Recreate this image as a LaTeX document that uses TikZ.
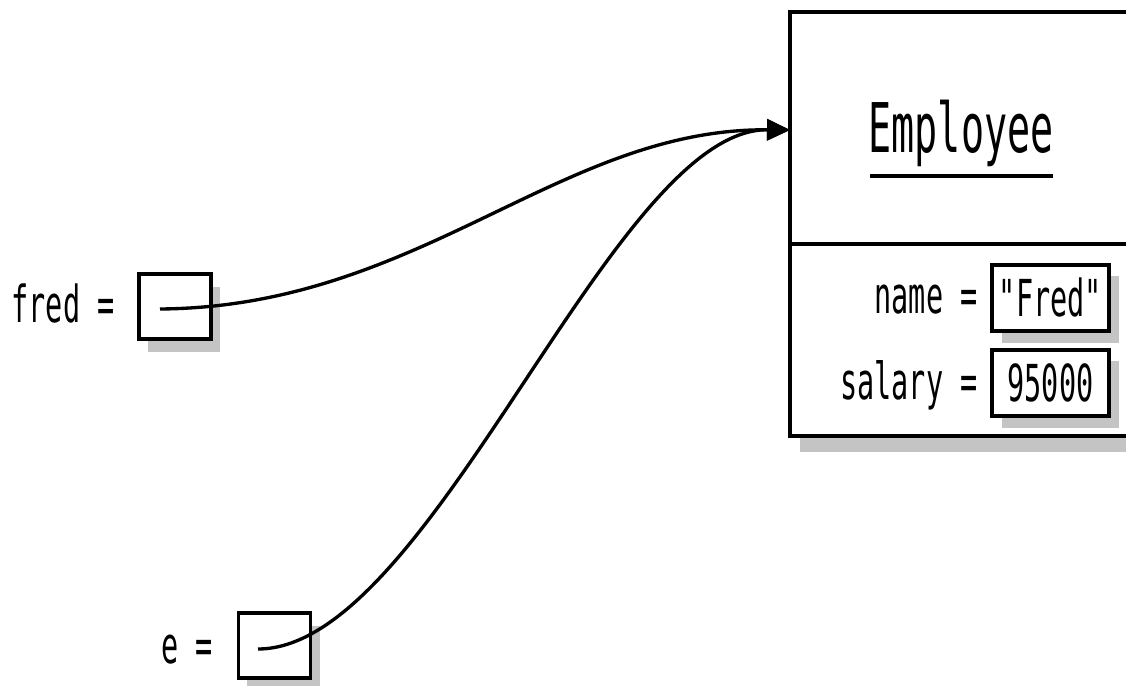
\documentclass[tikz,border=0pt]{standalone}
\usepackage{fontspec}
\newfontfamily\objfont{DejaVu Sans Mono}[FakeStretch=0.56]
\usetikzlibrary{arrows.meta}
\definecolor{shadowgray}{HTML}{C4C4C4}
\tikzset{
  pix/.style={x=0.02cm,y=-0.02cm},
  frame/.style={draw=black,line width=2.2pt,fill=white,inner sep=0pt},
  varbox/.style={frame,minimum width=1.44cm,minimum height=1.3cm},
  valbox/.style={frame,minimum width=2.34cm,minimum height=1.32cm,font=\objfont\fontsize{29}{32}\selectfont},
  label/.style={font=\objfont\fontsize{29}{32}\selectfont,inner sep=0pt},
  ptr/.style={line width=1.9pt,-{Triangle[length=0.46cm,width=0.42cm]}}
}
\begin{document}
\begin{tikzpicture}[pix]
\clip (0,0) rectangle (1126,686);
\fill[white] (0,0) rectangle (1126,686);

% object shadow and frame
\fill[shadowgray] (800,24) rectangle (1150,452);
\node[frame,minimum width=7cm,minimum height=8.48cm] (emp) at (965,224) {};
\draw[line width=2.2pt] (790,244) -- (1140,244);
\node[font=\objfont\fontsize{39}{44}\selectfont,inner sep=0pt] (title) at (961,133) {Employee};
\draw[line width=1.8pt] (870,176) -- (1053,176);

% fields
\fill[shadowgray] (1002,276) rectangle (1119,343);
\fill[shadowgray] (1002,361) rectangle (1119,428);
\node[valbox] (nameval) at (1050.5,298) {"Fred"};
\node[valbox] (salval) at (1050.5,383) {95000};
\node[label,anchor=east] (namelbl) at (978,300) {name =};
\node[label,anchor=east] (sallbl) at (978,385) {salary =};

% variables
\fill[shadowgray] (148,287) rectangle (220,352);
\fill[shadowgray] (247,626) rectangle (320,690);
\node[varbox] (fredvar) at (175,306.5) {};
\node[varbox] (evar) at (274.5,645.5) {};
\node[label,anchor=east] (fredlbl) at (115,304) {fred =};
\node[label,anchor=east] (elbl) at (213,650) {e =};

% references
\coordinate (fredptr) at (160,309);
\coordinate (eptr) at (258,649);
\coordinate (tgt) at (790,130);
\draw[ptr] (fredptr) .. controls (420,307) and (560,128) .. (tgt);
\draw[ptr] (eptr) .. controls (432,649) and (612,128) .. (tgt);
\end{tikzpicture}
\end{document}
